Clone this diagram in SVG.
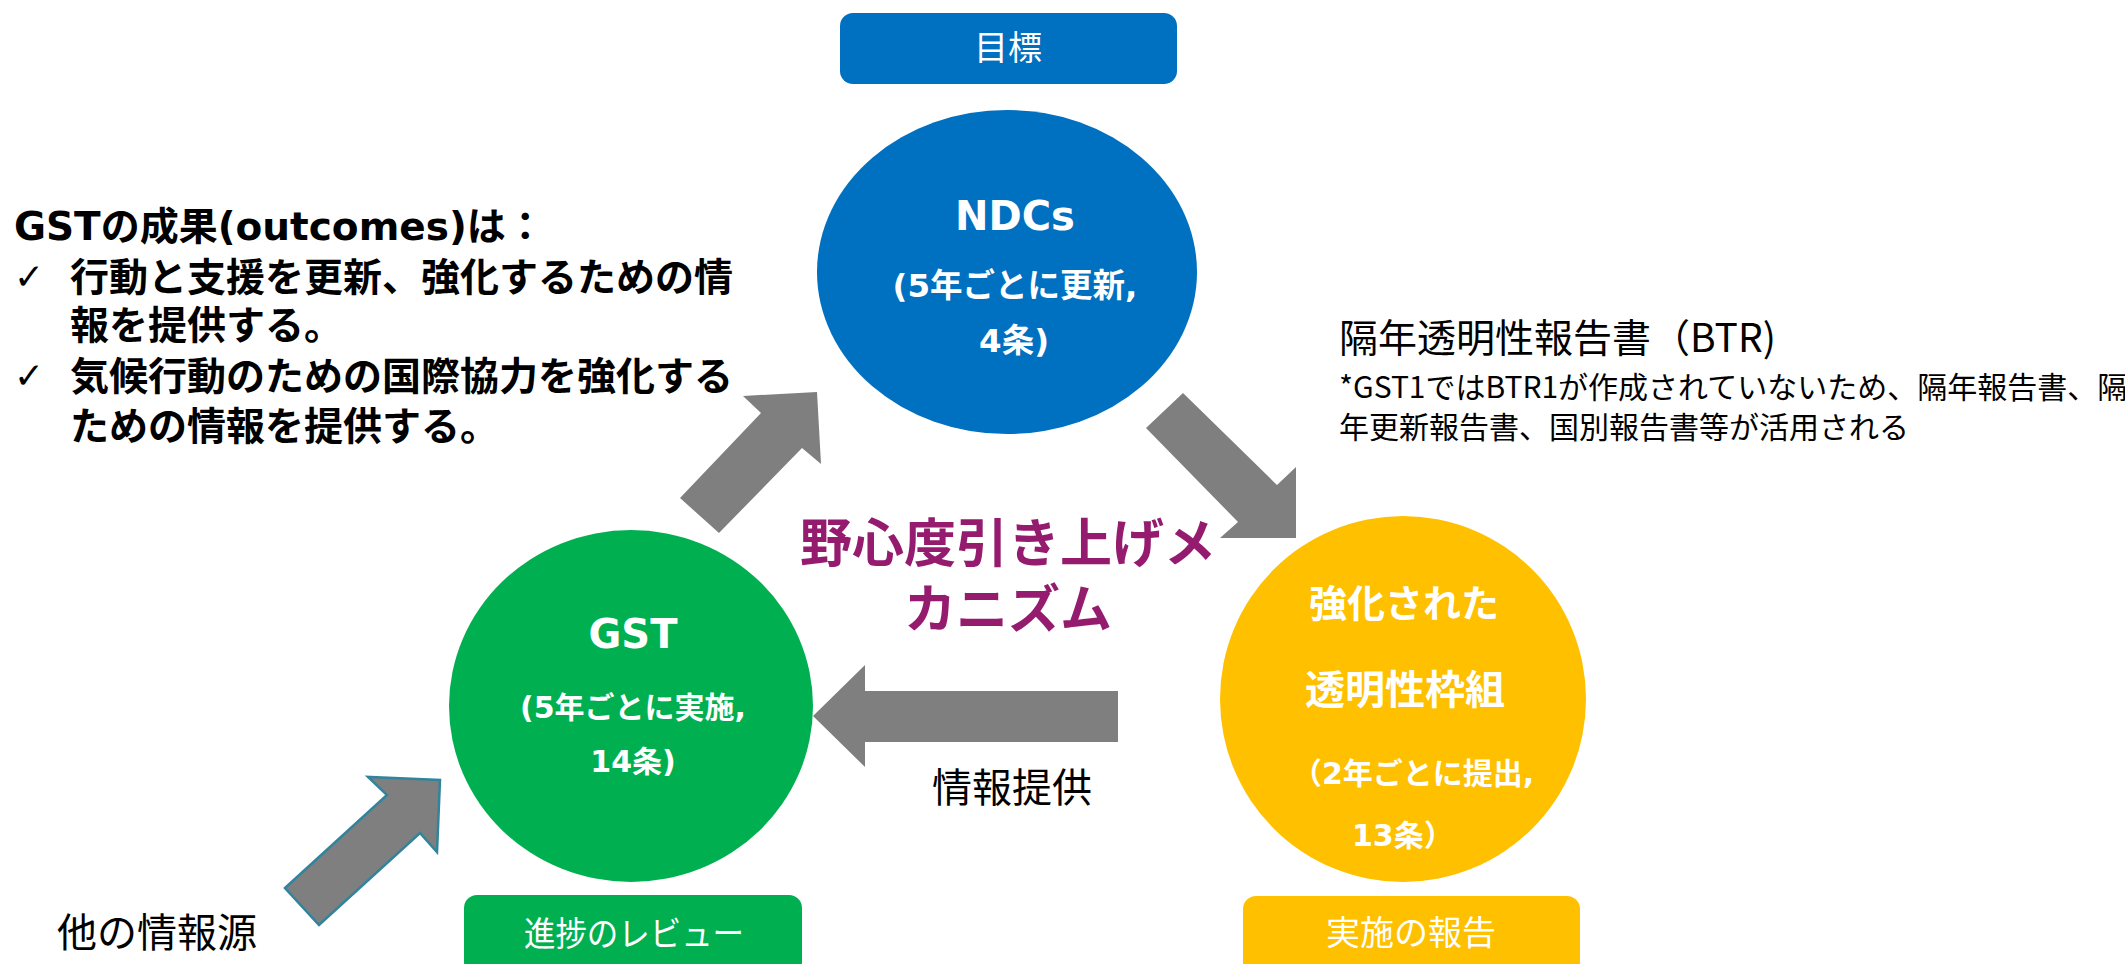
<svg xmlns="http://www.w3.org/2000/svg" width="2125" height="964" viewBox="0 0 2125 964">
<style>
.w{fill:#fff;font-family:"DejaVu Sans","Noto Sans CJK JP",sans-serif;font-weight:bold;text-anchor:middle}
.lab{fill:#fff;font-family:"Noto Sans CJK JP",sans-serif;font-weight:normal;text-anchor:middle;font-size:34px}
.blk{fill:#000;font-family:"DejaVu Sans","Noto Sans CJK JP",sans-serif;font-weight:bold;font-size:39px}
.reg{fill:#000;font-family:"Noto Sans CJK JP",sans-serif;font-weight:normal}
.chk{fill:#000;font-family:"DejaVu Sans",sans-serif;font-size:36px}
.arr{fill:#7F7F7F}
</style>
<rect width="2125" height="964" fill="#fff"/>

<g id="connectors">
<polygon class="arr" points="680,498 761,413 743,396 817,392 821,464 802,448 719,533"/>
<polygon class="arr" points="1183,393 1277,485 1296,467 1296,538 1220,538 1238,522 1146,428"/>
<polygon class="arr" points="813,716 865,665 865,691 1118,691 1118,742 865,742 865,767"/>
<polygon class="arr" stroke="#31849B" stroke-width="2.5" stroke-linejoin="miter" points="285,888 387,795 368,777 440,780 437,852 420,833 319,925"/>
</g>

<g id="goal-label">
<rect x="840" y="13" width="337" height="71" rx="13" fill="#0070C0"/>
<text class="lab" x="1008" y="60" font-size="36">目標</text>
</g>

<g id="ndcs">
<ellipse cx="1007" cy="272" rx="190" ry="162" fill="#0070C0"/>
<text class="w" x="1015" y="230" font-size="40">NDCs</text>
<text class="w" x="1015" y="297" font-size="32.5">(5年ごとに更新,</text>
<text class="w" x="1014" y="352" font-size="32.5">4条)</text>
</g>

<g id="gst">
<ellipse cx="631" cy="706" rx="182" ry="176" fill="#00B050"/>
<text class="w" x="633" y="648" font-size="40">GST</text>
<text class="w" x="633" y="718" font-size="30">(5年ごとに実施,</text>
<text class="w" x="633" y="772" font-size="30">14条)</text>
</g>

<g id="review-label">
<rect x="464" y="895" width="338" height="80" rx="13" fill="#00B050"/>
<text class="lab" x="634" y="946" textLength="220" lengthAdjust="spacingAndGlyphs">進捗のレビュー</text>
</g>

<g id="etf">
<ellipse cx="1403" cy="699" rx="183" ry="183" fill="#FFC000"/>
<text class="w" x="1404" y="617" font-size="38">強化された</text>
<text class="w" x="1405" y="704" font-size="40">透明性枠組</text>
<text class="w" x="1292" y="784" font-size="30" style="text-anchor:start">（2年ごとに提出,</text>
<text class="w" x="1352" y="846" font-size="30" style="text-anchor:start">13条）</text>
</g>

<g id="report-label">
<rect x="1243" y="896" width="337" height="80" rx="13" fill="#FFC000"/>
<text class="lab" x="1411" y="945" font-size="37">実施の報告</text>
</g>

<g id="title">
<text x="1008" y="562" font-family="Noto Sans CJK JP, sans-serif" font-weight="bold" font-size="52" fill="#951B6F" text-anchor="middle">野心度引き上げメ</text>
<text x="1008" y="628" font-family="Noto Sans CJK JP, sans-serif" font-weight="bold" font-size="52" fill="#951B6F" text-anchor="middle">カニズム</text>
</g>

<g id="outcomes">
<text class="blk" x="14" y="240">GSTの成果(outcomes)は：</text>
<text class="chk" x="14" y="289">✓</text>
<text class="blk" x="70" y="291">行動と支援を更新、強化するための情</text>
<text class="blk" x="70" y="339">報を提供する。</text>
<text class="chk" x="14" y="388">✓</text>
<text class="blk" x="70" y="390">気候行動のための国際協力を強化する</text>
<text class="blk" x="70" y="440">ための情報を提供する。</text>
</g>

<g id="btr-note">
<text class="reg" x="1339" y="352" font-size="39">隔年透明性報告書（BTR)</text>
<text class="reg" x="1339" y="398" font-size="30">*GST1ではBTR1が作成されていないため、隔年報告書、隔</text>
<text class="reg" x="1339" y="438" font-size="30">年更新報告書、国別報告書等が活用される</text>
</g>

<g id="info-label">
<text class="reg" x="1012" y="802" font-size="40" text-anchor="middle">情報提供</text>
</g>

<g id="other-source">
<text class="reg" x="57" y="947" font-size="40">他の情報源</text>
</g>
</svg>
